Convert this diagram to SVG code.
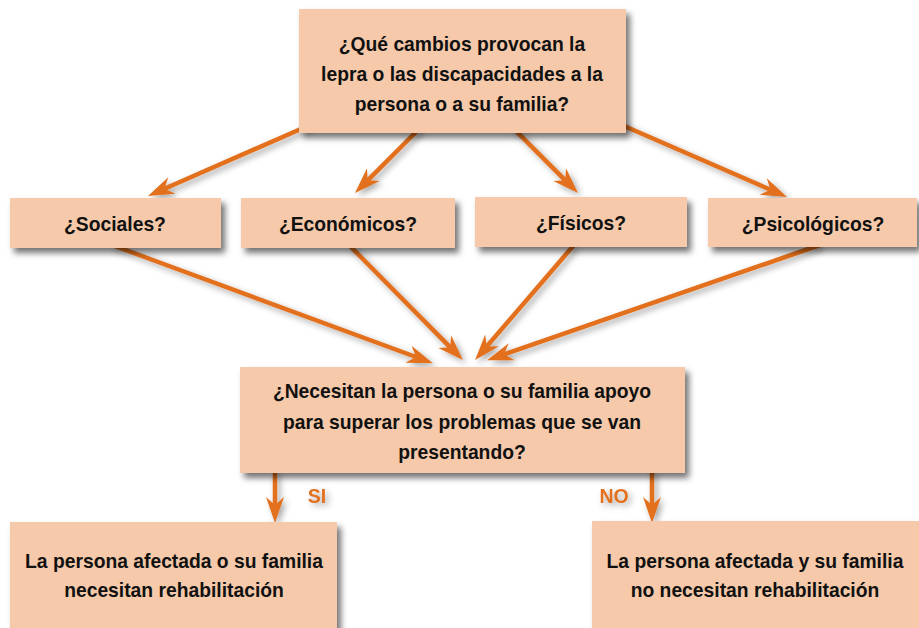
<svg xmlns="http://www.w3.org/2000/svg" width="919" height="628" viewBox="0 0 919 628">
<defs>
<style>
.box{fill:#F5C9A9;filter:url(#sh);}
.t{font-family:"Liberation Sans",Arial,sans-serif;font-weight:bold;font-size:19.3px;fill:#111;text-anchor:middle;}
.lbl{font-family:"Liberation Sans",Arial,sans-serif;font-weight:bold;font-size:19.5px;fill:#E2701F;text-anchor:middle;filter:url(#shl);}
.c{stroke:#E2701F;stroke-width:4.5;fill:none;marker-end:url(#ah);}
</style>
<filter id="sh" x="-20%" y="-20%" width="140%" height="160%">
<feDropShadow dx="4" dy="5" stdDeviation="3" flood-color="#000" flood-opacity="0.55"/>
</filter>
<filter id="shl" x="-50%" y="-50%" width="200%" height="200%">
<feDropShadow dx="3" dy="3" stdDeviation="3" flood-color="#000" flood-opacity="0.35"/>
</filter>
<marker id="ah" markerUnits="userSpaceOnUse" viewBox="-10 -10 30 20" refX="0" refY="0" markerWidth="30" markerHeight="20" orient="auto">
<path d="M18,0 L-8,-9 L0,0 L-8,9 Z" fill="#E2701F"/>
</marker>
</defs>
<rect width="919" height="628" fill="#fff"/>
<g id="connectors" filter="url(#shl)">
<line class="c" x1="310" y1="125" x2="164.5" y2="188.7"/>
<line class="c" x1="420" y1="128" x2="367.7" y2="180.3"/>
<line class="c" x1="513" y1="128" x2="565.3" y2="180.3"/>
<line class="c" x1="615" y1="122" x2="770.5" y2="189.8"/>
<line class="c" x1="112" y1="245" x2="416" y2="357"/>
<line class="c" x1="349" y1="245" x2="450.3" y2="347.3"/>
<line class="c" x1="574" y1="245" x2="486.8" y2="346.4"/>
<line class="c" x1="820" y1="245" x2="504.1" y2="354.3"/>
<line class="c" x1="275" y1="470" x2="275" y2="505"/>
<line class="c" x1="652" y1="470" x2="652" y2="505"/>
</g>
<g id="n-top">
<rect class="box" x="299" y="9" width="327" height="124"/>
<text class="t" x="462" y="51">¿Qué cambios provocan la</text>
<text class="t" x="462" y="81">lepra o las discapacidades a la</text>
<text class="t" x="462" y="111">persona o a su familia?</text>
</g>
<g id="n-sociales">
<rect class="box" x="10" y="198" width="211" height="50"/>
<text class="t" x="115" y="231">¿Sociales?</text>
</g>
<g id="n-economicos">
<rect class="box" x="241" y="198" width="214" height="50"/>
<text class="t" x="348" y="231">¿Económicos?</text>
</g>
<g id="n-fisicos">
<rect class="box" x="475" y="197" width="212" height="50"/>
<text class="t" x="581" y="230">¿Físicos?</text>
</g>
<g id="n-psicologicos">
<rect class="box" x="708" y="198" width="209" height="49"/>
<text class="t" x="813" y="231">¿Psicológicos?</text>
</g>
<g id="n-necesitan">
<rect class="box" x="240" y="367" width="445" height="106"/>
<text class="t" x="462" y="398">¿Necesitan la persona o su familia apoyo</text>
<text class="t" x="462" y="429">para superar los problemas que se van</text>
<text class="t" x="462" y="459">presentando?</text>
</g>
<g id="lbl-si"><text class="lbl" x="317" y="503">SI</text></g>
<g id="lbl-no"><text class="lbl" x="614" y="503">NO</text></g>
<g id="n-si">
<rect class="box" x="10" y="522" width="327" height="120"/>
<text class="t" x="174" y="568">La persona afectada o su familia</text>
<text class="t" x="174" y="597">necesitan rehabilitación</text>
</g>
<g id="n-no">
<rect class="box" x="592" y="521" width="340" height="120"/>
<text class="t" x="755" y="568">La persona afectada y su familia</text>
<text class="t" x="755" y="597">no necesitan rehabilitación</text>
</g>
</svg>
